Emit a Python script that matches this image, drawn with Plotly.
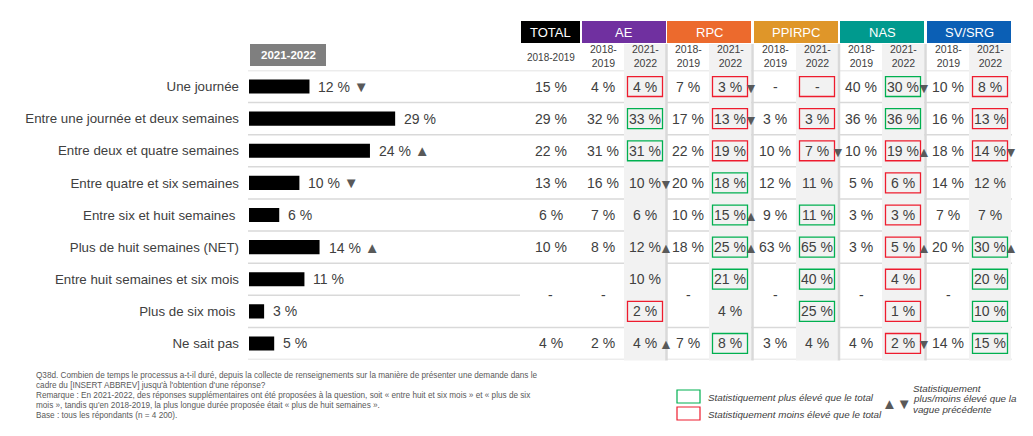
import plotly.graph_objects as go

W, H = 1033, 436

# Rows (response categories)
ROWS = [
    "Une journée",
    "Entre une journée et deux semaines",
    "Entre deux et quatre semaines",
    "Entre quatre et six semaines",
    "Entre six et huit semaines ",
    "Plus de huit semaines (NET)",
    "Entre huit semaines et six mois",
    "Plus de six mois ",
    "Ne sait pas",
]
# rows that did not exist in 2018-2019 (merged "-" cell)
NEW_ROWS = [6, 7]

# 2021-2022 total (bars)
BAR_2122 = [12, 29, 24, 10, 6, 14, 11, 3, 5]
BAR_TREND = ["v", "", "^", "v", "", "^", "", "", ""]

TOTAL_1819 = ["15 %", "29 %", "22 %", "13 %", "6 %", "10 %", "-", "-", "4 %"]

GROUPS = ["AE", "RPC", "PPIRPC", "NAS", "SV/SRG"]
GROUP_COLORS = ["#7030a0", "#ec6a2d", "#df9629", "#009a8e", "#0b5fb5"]

AE_1819 = ["4 %", "32 %", "31 %", "16 %", "7 %", "8 %", "-", "-", "2 %"]
AE_2122 = ["4 %", "33 %", "31 %", "10 %", "6 %", "12 %", "10 %", "2 %", "4 %"]
AE_SIG = ["-", "+", "+", "", "", "", "", "-", ""]
AE_TREND = ["", "", "", "v", "", "^", "", "", "^"]

RPC_1819 = ["7 %", "17 %", "22 %", "20 %", "10 %", "18 %", "-", "-", "7 %"]
RPC_2122 = ["3 %", "13 %", "19 %", "18 %", "15 %", "25 %", "21 %", "4 %", "8 %"]
RPC_SIG = ["-", "-", "-", "+", "+", "+", "+", "", "+"]
RPC_TREND = ["v", "v", "", "", "^", "^", "", "", ""]

PPIRPC_1819 = ["-", "3 %", "10 %", "12 %", "9 %", "63 %", "-", "-", "3 %"]
PPIRPC_2122 = ["-", "3 %", "7 %", "11 %", "11 %", "65 %", "40 %", "25 %", "4 %"]
PPIRPC_SIG = ["-", "-", "-", "", "+", "+", "+", "+", ""]
PPIRPC_TREND = ["", "", "v", "", "", "", "", "", ""]

NAS_1819 = ["40 %", "36 %", "10 %", "5 %", "3 %", "3 %", "-", "-", "4 %"]
NAS_2122 = ["30 %", "36 %", "19 %", "6 %", "3 %", "5 %", "4 %", "1 %", "2 %"]
NAS_SIG = ["+", "+", "-", "-", "-", "-", "-", "-", "-"]
NAS_TREND = ["v", "", "^", "", "", "^", "", "", "v"]

SV_1819 = ["10 %", "16 %", "18 %", "14 %", "7 %", "20 %", "-", "-", "14 %"]
SV_2122 = ["8 %", "13 %", "14 %", "12 %", "7 %", "30 %", "20 %", "10 %", "15 %"]
SV_SIG = ["-", "-", "-", "", "", "+", "+", "+", "+"]
SV_TREND = ["", "", "v", "", "", "^", "", "", ""]

GROUP_DATA = [
    (AE_1819, AE_2122, AE_SIG, AE_TREND),
    (RPC_1819, RPC_2122, RPC_SIG, RPC_TREND),
    (PPIRPC_1819, PPIRPC_2122, PPIRPC_SIG, PPIRPC_TREND),
    (NAS_1819, NAS_2122, NAS_SIG, NAS_TREND),
    (SV_1819, SV_2122, SV_SIG, SV_TREND),
]

FOOTNOTE = [
    "Q38d. Combien de temps le processus a-t-il duré, depuis la collecte de renseignements sur la manière de présenter une demande dans le",
    "cadre du [INSERT ABBREV] jusqu'à l'obtention d'une réponse?",
    "Remarque : En 2021-2022, des réponses supplémentaires ont été proposées à la question, soit « entre huit et six mois » et « plus de six",
    "mois », tandis qu'en 2018-2019, la plus longue durée proposée était « plus de huit semaines ».",
    "Base : tous les répondants (n = 4 200).",
]

# Layout constants (pixels)
TEXT = "#404040"
ARROW = "#595959"
GRID = "#d9d9d9"
GREEN = "#00b050"
RED = "#ee1c2e"
FONT = "Liberation Sans, Arial, sans-serif"
BAR_X0, BAR_X1 = 249, 520
PX_PER_PCT = 5.04
BODY_TOP, BODY_BOT = 70.5, 359.5
TOTAL_X0, TOTAL_X1 = 521, 580
GROUP_X0 = [582, 667, 754, 840, 927]
GROUP_W = 84
TRI = {"^": "▲", "v": "▼", "": ""}

fig = go.Figure()

fig.add_trace(
    go.Bar(
        x=BAR_2122,
        y=ROWS,
        orientation="h",
        marker=dict(color="black", line=dict(width=0)),
        width=0.44,
        xaxis="x2",
        yaxis="y2",
        hoverinfo="skip",
    )
)

shapes = []
ann = []


def text(x, y, s, size=14, color=TEXT, xref="x", yref="y2", xanchor="center", **kw):
    ann.append(
        dict(
            x=x, y=y, xref=xref, yref=yref, text=s, showarrow=False,
            xanchor=xanchor, yanchor="middle",
            font=dict(family=FONT, size=size, color=color), **kw
        )
    )


# gray 2021-2022 columns
for x0 in GROUP_X0:
    shapes.append(dict(type="rect", xref="x", yref="y", x0=x0 + 42, x1=x0 + GROUP_W,
                       y0=44, y1=BODY_BOT + 1, fillcolor="#f2f2f2", line_width=0, layer="below"))

# row separators
n = len(ROWS)
for i in range(-1, n):
    yb = i + 0.5
    if i == NEW_ROWS[0]:
        segs = [(BAR_X0 - 1, BAR_X1)] + [(x0 + 42, x0 + GROUP_W) for x0 in GROUP_X0]
    else:
        segs = [(BAR_X0 - 1, GROUP_X0[-1] + GROUP_W + 1)]
    for a, b in segs:
        shapes.append(dict(type="line", xref="x", yref="y2", x0=a, x1=b, y0=yb, y1=yb,
                           line=dict(color=GRID, width=1.5), layer="below"))

# vertical separators between groups
for k in range(len(GROUP_X0) - 1):
    xs = (GROUP_X0[k] + GROUP_W + GROUP_X0[k + 1]) / 2
    shapes.append(dict(type="line", xref="x", yref="y", x0=xs, x1=xs, y0=44, y1=BODY_BOT + 1,
                       line=dict(color=GRID, width=2.5), layer="below"))

# headers
shapes.append(dict(type="rect", xref="x", yref="y", x0=TOTAL_X0, x1=TOTAL_X1, y0=21, y1=43,
                   fillcolor="black", line_width=0))
text((TOTAL_X0 + TOTAL_X1) / 2, 32, "TOTAL", size=13, color="white", yref="y")
text((TOTAL_X0 + TOTAL_X1) / 2, 57, "2018-2019", size=10, yref="y")
for g, c, x0 in zip(GROUPS, GROUP_COLORS, GROUP_X0):
    shapes.append(dict(type="rect", xref="x", yref="y", x0=x0, x1=x0 + GROUP_W, y0=21, y1=43,
                       fillcolor=c, line_width=0))
    text(x0 + GROUP_W / 2, 32, g, size=13, color="white", yref="y")
    text(x0 + 21, 56, "2018-<br>2019", size=10.5, yref="y")
    text(x0 + 63, 56, "2021-<br>2022", size=10.5, yref="y")

shapes.append(dict(type="rect", xref="x", yref="y", x0=250, x1=326, y0=44, y1=66,
                   fillcolor="#7f7f7f", line_width=0))
text(288, 55, "<b>2021-2022</b>", size=11.5, color="white", yref="y")

# bar labels
for row, v, t in zip(ROWS, BAR_2122, BAR_TREND):
    s = f"{v} %"
    if t:
        s += f' <span style="font-size:15px;color:{ARROW}">{TRI[t]}</span>'
    text(v, row, s, xref="x2", xanchor="left", xshift=7)

# total column
for i, (row, v) in enumerate(zip(ROWS, TOTAL_1819)):
    if i in NEW_ROWS:
        continue
    text((TOTAL_X0 + TOTAL_X1) / 2, row, v)
text((TOTAL_X0 + TOTAL_X1) / 2, sum(NEW_ROWS) / 2, "-")

# group columns
for x0, (v18, v21, sig, trend) in zip(GROUP_X0, GROUP_DATA):
    c18, c21 = x0 + 21, x0 + 63
    for i, row in enumerate(ROWS):
        if i not in NEW_ROWS:
            text(c18, row, v18[i])
        text(c21, row, v21[i])
        if sig[i]:
            col = GREEN if sig[i] == "+" else RED
            shapes.append(dict(type="rect", xref="x", yref="y2", x0=c21 - 17.5, x1=c21 + 17.5,
                               y0=i - 0.31, y1=i + 0.31, line=dict(color=col, width=1.3)))
        if trend[i]:
            text(x0 + GROUP_W, row, TRI[trend[i]], size=14, color=ARROW, yshift=-1)
    text(c18, sum(NEW_ROWS) / 2, "-")

# footnote
for k, line in enumerate(FOOTNOTE):
    ann.append(dict(x=34, y=375 + 10 * k, xref="x", yref="y", text=line, showarrow=False,
                    xanchor="left", yanchor="middle",
                    font=dict(family=FONT, size=8.2, color="#595959")))

# legend
shapes.append(dict(type="rect", xref="x", yref="y", x0=677, x1=700, y0=390, y1=403,
                   line=dict(color=GREEN, width=1.2)))
shapes.append(dict(type="rect", xref="x", yref="y", x0=677, x1=700, y0=407, y1=420,
                   line=dict(color=RED, width=1.2)))
text(706, 397, "<i>Statistiquement plus élevé que le total</i>", size=9.8, yref="y", xanchor="left")
text(706, 414, "<i>Statistiquement moins élevé que le total</i>", size=9.8, yref="y", xanchor="left")
text(897, 403, "▲▼", size=15, color=ARROW, yref="y")
for k, line in enumerate(["Statistiquement", "plus/moins élevé que la", "vague précédente"]):
    text(911, 388 + 10.5 * k, f"<i>{line}</i>", size=9.8, yref="y", xanchor="left")

fig.update_layout(
    width=W,
    height=H,
    margin=dict(l=0, r=0, t=0, b=0),
    paper_bgcolor="white",
    plot_bgcolor="rgba(0,0,0,0)",
    showlegend=False,
    xaxis=dict(range=[0, W], domain=[0, 1], visible=False, fixedrange=True),
    yaxis=dict(range=[H, 0], domain=[0, 1], visible=False, fixedrange=True),
    xaxis2=dict(
        range=[0, (BAR_X1 - BAR_X0) / PX_PER_PCT],
        domain=[BAR_X0 / W, BAR_X1 / W],
        anchor="y2",
        visible=False,
        fixedrange=True,
    ),
    yaxis2=dict(
        type="category",
        categoryorder="array",
        categoryarray=ROWS,
        range=[n - 0.5, -0.5],
        domain=[1 - BODY_BOT / H, 1 - BODY_TOP / H],
        anchor="x2",
        showgrid=False,
        showline=False,
        zeroline=False,
        ticks="",
        ticklabelstandoff=9,
        tickfont=dict(family=FONT, size=13.3, color=TEXT),
        fixedrange=True,
    ),
    shapes=shapes,
    annotations=ann,
)

# page body has a default margin; remove it so the figure sits at (0, 0)
fig.write_html(
    "out.html",
    config={"displayModeBar": False},
    post_script="document.body.style.margin='0';document.body.style.overflow='hidden';",
)
